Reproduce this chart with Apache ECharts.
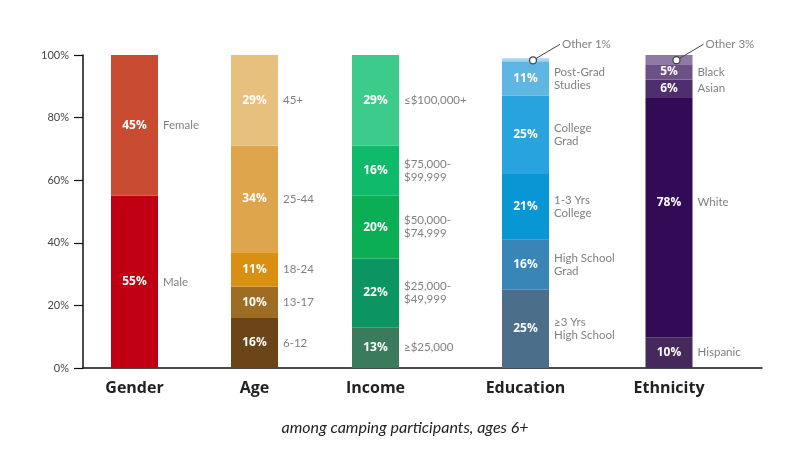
<!DOCTYPE html>
<html>
<head>
<meta charset="utf-8">
<script src="https://cdn.jsdelivr.net/npm/echarts@6/dist/echarts.min.js"></script>
<style>
  html, body { margin: 0; padding: 0; background: #ffffff; }
  #chart { width: 810px; height: 467px; }
</style>
</head>
<body>
<div id="chart"></div>
<script>
// ---------- DATA ----------
const groups = ['Gender', 'Age', 'Income', 'Education', 'Ethnicity'];

const genderLabels = ['Male', 'Female'];
const genderValues = [55, 45];

const ageLabels = ['6-12', '13-17', '18-24', '25-44', '45+'];
const ageValues = [16, 10, 11, 34, 29];

const incomeLabels = ['≥$25,000', '$25,000-\n$49,999', '$50,000-\n$74,999', '$75,000-\n$99,999', '≤$100,000+'];
const incomeValues = [13, 22, 20, 16, 29];

const educationLabels = ['≥3 Yrs\nHigh School', 'High School\nGrad', '1-3 Yrs\nCollege', 'College\nGrad', 'Post-Grad\nStudies', 'Other'];
const educationValues = [25, 16, 21, 25, 11, 1];

const ethnicityLabels = ['Hispanic', 'White', 'Asian', 'Black', 'Other'];
const ethnicityValues = [10, 78, 6, 5, 3];

const yTicks = [0, 20, 40, 60, 80, 100];

// ---------- STYLE / LAYOUT ----------
const colors = [
  ['#C00012', '#C94B31'],
  ['#6A4518', '#9E6C23', '#D98F12', '#DEA54C', '#E6C07C'],
  ['#3A7B5C', '#0C9561', '#0BAE55', '#10BA6B', '#3DCB8C'],
  ['#4B6F8B', '#3886B5', '#0896D5', '#28A3DD', '#60B6E3', '#A8D5EF'],
  ['#45295C', '#320B56', '#4E2E6C', '#6B5185', '#8F79A6']
];
const columnCenters = [134.5, 254.5, 375.5, 525.5, 669];
const colWidth = 100;
const barW = 47;
const TOP = 55, BOTTOM = 99;
const labelYShift = { '4-1': -15 }; // White label sits above segment centre in the reference

const columns = [
  [genderLabels, genderValues],
  [ageLabels, ageValues],
  [incomeLabels, incomeValues],
  [educationLabels, educationValues],
  [ethnicityLabels, ethnicityValues]
];

const grids = [];
const xAxes = [];
const yAxes = [];
const series = [];

columns.forEach(([labels, values], c) => {
  grids.push({ left: columnCenters[c] - colWidth / 2, width: colWidth, top: TOP, bottom: BOTTOM, containLabel: false });
  xAxes.push({
    type: 'category', gridIndex: c, data: [groups[c]],
    axisLine: { show: false }, axisTick: { show: false },
    axisLabel: { interval: 0, margin: 12, color: '#222', fontFamily: 'Open Sans', fontWeight: 'bold', fontSize: 16 }
  });
  yAxes.push({ type: 'value', gridIndex: c, min: 0, max: 100, show: false });

  const sum = values.reduce((a, b) => a + b, 0);
  const k = Math.max(1, sum / 100); // the reference caps a column at 100%
  values.forEach((v, s) => {
    const isOther = labels[s] === 'Other';
    const shift = labelYShift[c + '-' + s] || 0;
    series.push({
      type: 'bar', name: labels[s], xAxisIndex: c, yAxisIndex: c,
      stack: 'bars' + c, barWidth: barW, barGap: '-100%',
      data: [v / k],
      itemStyle: { color: colors[c][s] },
      label: {
        show: !isOther, position: 'inside', offset: [0, shift],
        formatter: v + '%', color: '#fff', fontFamily: 'Open Sans', fontWeight: 'bold', fontSize: 12
      },
      silent: true
    });
  });
  values.forEach((v, s) => {
    const isOther = labels[s] === 'Other';
    const shift = labelYShift[c + '-' + s] || 0;
    series.push({
      type: 'bar', name: labels[s] + ' label', xAxisIndex: c, yAxisIndex: c,
      stack: 'labels' + c, barWidth: barW, barGap: '-100%',
      data: [v / k],
      itemStyle: { color: 'rgba(0,0,0,0)' },
      label: {
        show: !isOther, position: 'right', distance: 5, offset: [0, shift],
        formatter: labels[s], color: '#808080', fontFamily: 'Lato', fontSize: 11.5, lineHeight: 13, align: 'left'
      },
      silent: true
    });
  });
  // "Other" call-out
  const oi = labels.indexOf('Other');
  if (oi >= 0) {
    const top = sum / k;
    const other = values[oi] / k;
    series.push({
      type: 'custom', xAxisIndex: c, yAxisIndex: c, silent: true, z: 20,
      data: [[0, top - other / 2, values[oi]]],
      renderItem: function (params, api) {
        const p = api.coord([api.value(0), api.value(1)]);
        const cx = p[0] + 7.5, cy = p[1] + 0.6;
        const ex = cx + 27, ey = cy - 16;
        const len = Math.hypot(ex - cx, ey - cy);
        const r = 3.5;
        return {
          type: 'group',
          children: [
            { type: 'line', z2: 1, shape: { x1: cx + (ex - cx) / len * r, y1: cy + (ey - cy) / len * r, x2: ex, y2: ey },
              style: { stroke: '#444', lineWidth: 1 } },
            { type: 'circle', z2: 2, shape: { cx: cx, cy: cy, r: r }, style: { fill: '#fff', stroke: '#444', lineWidth: 1.3 } },
            { type: 'text', z2: 3, x: ex + 2, y: ey,
              style: { text: 'Other ' + api.value(2) + '%', fill: '#808080', font: '11.5px Lato', align: 'left', verticalAlign: 'middle' } }
          ]
        };
      }
    });
  }
});

// Axis frame grid (y axis + baseline)
const frame = grids.length;
grids.push({ left: 83, right: 48, top: TOP, bottom: BOTTOM, containLabel: false });
xAxes.push({
  type: 'value', gridIndex: frame, min: 0, max: 1,
  axisLine: { show: true, lineStyle: { color: '#111', width: 1.5 } },
  axisTick: { show: false }, axisLabel: { show: false }, splitLine: { show: false }
});
yAxes.push({
  type: 'value', gridIndex: frame, min: yTicks[0], max: yTicks[yTicks.length - 1], interval: yTicks[1] - yTicks[0],
  axisLine: { show: true, lineStyle: { color: '#111', width: 1.5 } },
  axisTick: { show: true, length: 9, lineStyle: { color: '#111', width: 1.2 } },
  axisLabel: { formatter: '{value}%', margin: 14, color: '#444', fontFamily: 'Lato', fontSize: 11 },
  splitLine: { show: false }
});

const chart = echarts.init(document.getElementById('chart'), null, { renderer: 'canvas' });
chart.setOption({
  animation: false,
  backgroundColor: '#ffffff',
  title: {
    text: 'among camping participants, ages 6+',
    left: 'center', top: 415,
    textStyle: { fontFamily: 'Lato', fontStyle: 'italic', fontWeight: 'normal', fontSize: 16, color: '#222' }
  },
  grid: grids,
  xAxis: xAxes,
  yAxis: yAxes,
  series: series
});
</script>
</body>
</html>
